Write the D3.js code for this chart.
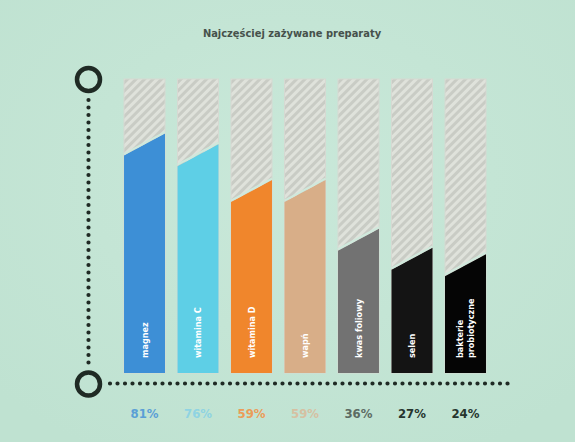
<!DOCTYPE html>
<html>
<head>
<meta charset="utf-8">
<script src="https://cdn.jsdelivr.net/npm/d3@7"></script>
<style>
  html, body { margin: 0; padding: 0; background: #c5e5d5; }
  svg { display: block; font-family: "Liberation Sans Narrow", "DejaVu Sans Condensed", "Noto Sans", sans-serif; }
</style>
</head>
<body>
<div id="chart"></div>
<script>
// DATA
const categories = ["magnez", "witamina C", "witamina D", "wapń", "kwas foliowy", "selen", "bakterie probiotyczne"];
const values = [81, 76, 59, 59, 36, 27, 24];
const valueLabels = ["81%", "76%", "59%", "59%", "36%", "27%", "24%"];
const barColors = ["#3d8fd6", "#5ecfe6", "#f0862c", "#d8ae88", "#727272", "#141414", "#050505"];
const labelColors = ["#5a9fd6", "#8fd3e2", "#eb9c58", "#d6c0a2", "#5c6b63", "#26352e", "#26352e"];

// CONSTANTS
const WIDTH = 575;
const HEIGHT = 442;
const TOP = 79;
const BOTTOM = 373;
const SLANT = 11;

const svg = d3.select("#chart")
  .append("svg")
  .attr("width", WIDTH)
  .attr("height", HEIGHT);

const defs = svg.append("defs");

const bg = defs.append("radialGradient").attr("id", "bg").attr("cx", "50%").attr("cy", "40%").attr("r", "70%");
bg.append("stop").attr("offset", "0%").attr("stop-color", "#c9e8d9");
bg.append("stop").attr("offset", "100%").attr("stop-color", "#bfe2d1");

const hatch = defs.append("pattern")
  .attr("id", "hatch")
  .attr("width", 6)
  .attr("height", 6)
  .attr("patternUnits", "userSpaceOnUse")
  .attr("patternTransform", "rotate(45)");
hatch.append("rect").attr("width", 6).attr("height", 6).attr("fill", "#c9ccc5");
hatch.append("rect").attr("width", 3).attr("height", 6).attr("fill", "#dfe2db");

svg.append("rect").attr("width", WIDTH).attr("height", HEIGHT).attr("fill", "url(#bg)");

// title
svg.append("text")
  .attr("x", 292)
  .attr("y", 37)
  .attr("text-anchor", "middle")
  .attr("font-size", 11)
  .attr("font-weight", "bold")
  .attr("fill", "#46514b")
  .text("Najczęściej zażywane preparaty");

// SCALES
const x = d3.scaleBand()
  .domain(categories)
  .range([111.5, 498.5])
  .padding(0.234);

// fill level of the bars is not proportional in the original graphic
const y = d3.scaleLinear()
  .domain([-27, 112])
  .range([BOTTOM, TOP]);

const bars = svg.append("g")
  .selectAll("g")
  .data(categories)
  .enter()
  .append("g")
  .attr("transform", d => `translate(${x(d)},0)`);

const bw = x.bandwidth();

bars.append("rect")
  .attr("y", TOP)
  .attr("width", bw)
  .attr("height", BOTTOM - TOP)
  .attr("fill", "url(#hatch)")
  .attr("stroke", "#d6d9d2")
  .attr("stroke-width", 1);

bars.append("path")
  .attr("d", (d, i) => {
    const v = y(values[i]);
    return `M0,${v + SLANT}L${bw},${v - SLANT}L${bw},${BOTTOM}L0,${BOTTOM}Z`;
  })
  .attr("fill", (d, i) => barColors[i]);

bars.append("line")
  .attr("x1", 0)
  .attr("x2", bw)
  .attr("y1", (d, i) => y(values[i]) + SLANT - 1.5)
  .attr("y2", (d, i) => y(values[i]) - SLANT - 1.5)
  .attr("stroke", "#cfe9dc")
  .attr("stroke-width", 2);

// labels inside bars
bars.each(function (d) {
  const words = d === "bakterie probiotyczne" ? ["bakterie", "probiotyczne"] : [d];
  const g = d3.select(this);
  words.forEach((w, j) => {
    const off = (j - (words.length - 1) / 2) * 11;
    g.append("text")
      .attr("transform", `translate(${bw / 2 + off},358) rotate(-90)`)
      .attr("dy", "0.35em")
      .attr("font-size", 9)
      .attr("font-weight", "bold")
      .attr("fill", "#ffffff")
      .text(w);
  });
});

// percentage labels
svg.append("g")
  .selectAll("text")
  .data(valueLabels)
  .enter()
  .append("text")
  .attr("x", (d, i) => x(categories[i]) + bw / 2)
  .attr("y", 418)
  .attr("text-anchor", "middle")
  .attr("font-size", 13)
  .attr("font-weight", "bold")
  .attr("fill", (d, i) => labelColors[i])
  .text(d => d);

// AXES (dotted lines with rings)
const axisColor = "#1f2a24";
svg.append("line")
  .attr("x1", 88.5).attr("x2", 88.5)
  .attr("y1", 100).attr("y2", 366)
  .attr("stroke", axisColor)
  .attr("stroke-width", 4.2)
  .attr("stroke-linecap", "round")
  .attr("stroke-dasharray", "0 7.5");

svg.append("line")
  .attr("x1", 110).attr("x2", 512)
  .attr("y1", 383.5).attr("y2", 383.5)
  .attr("stroke", axisColor)
  .attr("stroke-width", 4.2)
  .attr("stroke-linecap", "round")
  .attr("stroke-dasharray", "0 7.5");

svg.selectAll("circle.ring")
  .data([79.5, 384])
  .enter()
  .append("circle")
  .attr("class", "ring")
  .attr("cx", 88.5)
  .attr("cy", d => d)
  .attr("r", 11.5)
  .attr("fill", "none")
  .attr("stroke", axisColor)
  .attr("stroke-width", 4.5);
</script>
</body>
</html>
